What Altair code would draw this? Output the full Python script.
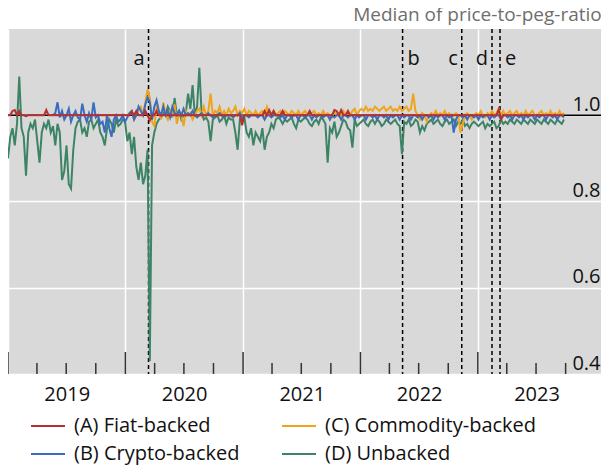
import altair as alt
import pandas as pd

# ---------------- data (weekly readings of the median price-to-peg ratio) ----------------
START = "2019-01-01"
N_WEEKS = 248
B_START = 20   # first week with a crypto-backed reading
C_START = 53   # first week with a commodity-backed reading

fiat = [
    1.0, 1.0, 1.01, 1.012, 1.0, 1.01, 1.0, 1.0, 0.998, 1.0,
    1.0, 1.0, 1.0, 1.0, 1.0, 1.0, 1.0, 1.012, 1.0, 1.0,
    1.0, 1.0, 1.0, 1.0, 1.0, 1.0, 1.0, 1.0, 1.0, 1.0,
    1.0, 1.0, 1.0, 1.0, 1.0, 1.0, 1.0, 1.0, 1.0, 1.0,
    1.0, 1.0, 1.0, 1.0, 1.0, 1.0, 1.0, 1.0, 1.0, 1.0,
    1.0, 1.0, 1.0, 1.0, 1.0, 1.008, 1.0, 1.01, 1.0, 1.0,
    1.0, 1.01, 1.0, 0.988, 1.0, 1.0, 1.01, 1.0, 1.0, 1.0,
    1.0, 1.0, 1.0, 1.0, 1.0, 1.0, 1.0, 1.0, 1.0, 1.0,
    1.0, 1.0, 1.0, 1.0, 1.0, 1.0, 1.0, 1.0, 1.0, 1.0,
    1.0, 1.0, 1.0, 1.0, 1.0, 1.0, 1.0, 1.0, 1.0, 1.0,
    1.0, 1.0, 1.0, 1.0, 0.977, 1.0, 1.0, 1.0, 1.0, 1.0,
    1.0, 1.0, 1.0, 1.0, 1.01, 1.0, 1.012, 1.0, 1.01, 1.0,
    1.0, 1.0, 1.01, 1.0, 1.0, 1.0, 1.0, 1.0, 1.0, 1.0,
    1.0, 1.0, 1.0, 1.0, 1.01, 1.0, 1.0, 1.0, 1.0, 1.0,
    1.0, 1.0, 1.0, 1.0, 1.0, 1.012, 1.01, 1.0, 1.012, 1.0,
    1.0, 1.01, 1.0, 1.0, 1.0, 1.0, 1.0, 1.0, 1.0, 1.0,
    1.0, 1.0, 1.0, 1.0, 1.0, 1.0, 1.0, 1.0, 1.0, 1.0,
    1.0, 1.0, 1.0, 1.0, 1.0, 1.0, 1.0, 1.0, 1.0, 1.0,
    1.0, 1.0, 1.0, 1.0, 1.0, 1.0, 1.0, 1.0, 1.0, 1.0,
    1.0, 1.0, 1.0, 1.0, 1.0, 1.0, 1.0, 1.0, 1.0, 1.0,
    1.0, 1.0, 1.0, 1.0, 1.0, 1.0, 1.0, 1.0, 1.0, 1.0,
    1.0, 1.0, 1.0, 1.0, 1.0, 1.0, 1.0, 1.0, 1.014, 0.99,
    1.0, 1.0, 1.0, 1.0, 1.0, 1.0, 1.0, 1.0, 1.0, 1.0,
    1.0, 1.0, 1.0, 1.0, 1.0, 1.0, 1.0, 1.0, 1.0, 1.0,
    1.0, 1.0, 1.0, 1.0, 1.0, 1.0, 1.0, 1.0,
]

crypto = [
    1.0, 1.005, 1.03, 0.995, 1.01, 0.99, 1.0, 1.015, 0.985, 1.0,
    1.01, 0.995, 0.99, 1.027, 1.0, 0.985, 1.005, 0.99, 1.03, 0.995,
    1.0, 0.98, 0.985, 0.96, 1.0, 0.97, 0.95, 0.99, 1.0, 0.985,
    0.99, 1.0, 0.985, 0.995, 1.005, 1.01, 0.99, 1.0, 1.02, 1.01,
    1.0, 1.025, 1.042, 1.03, 0.99, 1.02, 1.035, 1.01, 1.0, 1.02,
    1.0, 1.01, 0.995, 1.02, 1.005, 1.0, 1.01, 1.0, 1.015, 1.0,
    1.005, 1.0, 1.01, 1.0, 0.995, 1.0, 1.005, 1.0, 1.0, 1.005,
    1.0, 0.995, 1.0, 1.0, 1.005, 1.0, 0.995, 1.0, 1.0, 1.0,
    0.995, 1.0, 1.0, 1.005, 0.99, 1.0, 1.0, 0.995, 1.0, 1.0,
    1.0, 0.995, 1.0, 1.0, 0.99, 1.0, 1.0, 0.995, 1.0, 1.0,
    1.0, 0.995, 1.0, 0.99, 1.0, 1.0, 0.995, 1.0, 1.0, 0.99,
    1.0, 1.0, 0.995, 1.0, 1.0, 0.99, 1.0, 0.995, 1.0, 1.0,
    0.995, 1.0, 1.0, 0.99, 1.0, 0.995, 1.0, 1.0, 0.99, 1.0,
    1.0, 0.995, 1.0, 1.0, 0.99, 1.0, 0.995, 1.0, 1.0, 0.99,
    1.0, 1.0, 0.995, 1.0, 0.99, 1.0, 1.0, 0.995, 1.0, 0.99,
    1.0, 0.995, 1.0, 1.0, 0.99, 1.0, 0.995, 1.0, 1.0, 0.99,
    1.0, 1.0, 0.995, 1.0, 0.99, 1.0, 1.0, 0.995, 1.0, 0.99,
    1.0, 0.995, 1.0, 1.0, 0.99, 1.0, 0.995, 1.0, 0.96, 0.99,
    1.0, 1.0, 0.995, 1.0, 0.99, 1.0, 1.0, 0.995, 1.0, 0.99,
    1.0, 0.995, 1.0, 1.0, 0.99, 1.0, 0.995, 1.0, 1.0, 0.99,
    1.0, 1.0, 0.995, 1.0, 0.99, 1.0, 1.0, 0.995, 1.0, 0.99,
    1.0, 0.995, 1.0, 1.0, 0.99, 1.0, 0.995, 1.0, 1.0, 0.99,
    1.0, 1.0, 0.995, 1.0, 0.99, 1.0, 1.0, 0.995,
]

commodity = [
    1.0, 1.005, 1.01, 0.99, 1.0, 1.015, 1.02,
    1.0, 1.03, 1.06, 1.04, 0.985, 0.975, 1.02, 1.01, 0.99, 1.03,
    1.0, 0.99, 1.01, 1.0, 1.025, 0.98, 1.005, 1.0, 0.975, 1.01,
    1.0, 1.005, 0.99, 1.0, 1.01, 1.015, 1.0, 1.02, 1.0, 1.01,
    1.05, 1.0, 1.01, 1.005, 1.02, 1.0, 1.01, 1.0, 1.015, 1.005,
    1.01, 1.02, 1.0, 1.01, 1.005, 1.015, 1.0, 1.01, 1.005, 1.0,
    1.01, 1.0, 1.005, 1.01, 1.0, 1.02, 1.005, 1.0, 1.01, 1.0,
    1.005, 1.01, 1.0, 1.01, 1.005, 1.0, 1.01, 1.005, 1.0, 1.01,
    1.0, 1.005, 1.01, 1.0, 1.0, 1.005, 1.01, 1.0, 1.005, 1.0,
    1.01, 1.0, 1.005, 1.0, 0.995, 1.01, 1.0, 1.005, 1.0, 1.01,
    1.0, 1.005, 1.0, 1.01, 1.015, 1.0, 1.01, 1.015, 1.01, 1.02,
    1.01, 1.015, 1.01, 1.02, 1.015, 1.01, 1.015, 1.02, 1.01, 1.015,
    1.02, 1.01, 1.015, 1.01, 1.02, 1.01, 1.015, 1.02, 1.01, 1.015,
    1.05, 1.01, 1.0, 0.99, 1.005, 1.0, 0.985, 1.0, 1.005, 1.0,
    1.01, 1.0, 1.005, 1.0, 1.01, 1.0, 1.005, 0.995, 1.0, 1.005,
    1.0, 0.96, 0.98, 1.0, 1.005, 1.0, 0.99, 1.0, 1.005, 1.0,
    1.01, 1.0, 0.995, 1.005, 1.0, 1.01, 1.0, 1.005, 1.015, 1.0,
    1.01, 1.0, 1.005, 1.01, 1.0, 1.005, 1.01, 1.0, 1.005, 1.0,
    1.01, 1.0, 1.005, 1.01, 1.0, 1.0, 1.005, 1.01, 1.0, 1.005,
    1.0, 1.01, 1.0, 1.005, 1.0, 1.01, 1.0, 1.005,
]

unbacked = [
    0.90, 0.95, 0.97, 0.93, 0.98, 1.09, 0.97, 0.95, 0.86, 0.96,
    0.98, 0.97, 0.99, 0.94, 0.89, 0.96, 0.98, 0.97, 0.99, 0.96,
    0.975, 0.93, 0.98, 0.96, 0.85, 0.87, 0.93, 0.84, 0.83, 0.92,
    0.97, 0.985, 0.99, 0.96, 0.97, 0.95, 0.985, 0.99, 0.97, 0.98,
    0.99, 0.96, 0.95, 0.93, 0.97, 0.99, 0.98, 0.96, 0.99, 0.975,
    0.98, 0.99, 0.985, 0.94, 0.96, 0.91, 0.95, 0.88, 0.85, 0.89,
    0.84, 0.86, 0.92, 0.43, 0.93, 0.96, 0.98, 0.99, 0.995, 1.005,
    1.0, 1.02, 1.01, 0.995, 1.04, 1.0, 1.01, 0.99, 1.0, 1.005,
    1.05, 1.015, 1.07, 1.0, 1.02, 1.11, 1.005, 0.99, 0.995, 0.985,
    0.94, 0.99, 0.995, 1.0, 0.985, 0.99, 1.0, 0.98, 0.995, 0.99,
    0.99, 0.96, 0.92, 0.99, 1.0, 0.995, 0.96, 0.95, 0.97, 0.93,
    0.96, 0.95, 0.94, 0.97, 0.92, 0.95, 0.96, 0.98, 0.97, 0.99,
    0.995, 0.99, 0.98, 0.99, 0.985, 0.99, 0.995, 0.98, 0.97, 0.99,
    0.985, 0.99, 0.995, 0.99, 0.98, 0.975, 0.985, 0.99, 0.98, 0.995,
    0.99, 0.98, 0.89, 0.97, 0.96, 0.985, 0.95, 0.96, 0.975, 0.99,
    0.985, 0.97, 0.965, 0.925, 0.99, 0.975, 0.98, 0.985, 0.99, 0.98,
    0.975, 0.985, 0.99, 0.98, 0.99, 0.985, 0.975, 0.98, 0.99, 0.985,
    0.98, 0.985, 0.99, 0.98, 0.975, 0.91, 0.985, 0.98, 0.99, 0.975,
    0.98, 0.99, 0.985, 0.96, 0.975, 0.965, 0.98, 0.985, 0.99, 0.98,
    0.985, 0.99, 0.98, 0.975, 0.985, 0.99, 0.98, 0.985, 0.99, 0.975,
    0.985, 0.98, 0.99, 0.975, 0.98, 0.97, 0.98, 0.985, 0.98, 0.975,
    0.98, 0.985, 0.97, 0.98, 0.975, 0.98, 0.985, 0.97, 0.975, 0.99,
    0.98, 0.985, 0.98, 0.99, 0.985, 0.98, 0.99, 0.985, 0.98, 0.99,
    0.985, 0.98, 0.99, 0.985, 0.98, 0.99, 0.985, 0.98, 0.99, 0.985,
    0.98, 0.99, 0.985, 0.98, 0.99, 0.985, 0.98, 0.99,
]

series_names = ["(A) Fiat-backed", "(B) Crypto-backed", "(C) Commodity-backed", "(D) Unbacked"]
series_colors = ["#b4312f", "#3a6dc0", "#f0a41c", "#3d8466"]

event_labels = ["a", "b", "c", "d", "e"]
event_dates = ["2020-03-13", "2022-05-12", "2022-11-12", "2023-02-14", "2023-03-11"]
event_sides = ["left", "right", "left", "left", "right"]

year_ticks = ["2019-01-01", "2020-01-01", "2021-01-01", "2022-01-01", "2023-01-01"]
quarter_ticks = [
    "2019-04-01", "2019-07-01", "2019-10-01",
    "2020-04-01", "2020-07-01", "2020-10-01",
    "2021-04-01", "2021-07-01", "2021-10-01",
    "2022-04-01", "2022-07-01", "2022-10-01",
    "2023-04-01", "2023-07-01", "2023-10-01",
]
y_ticks = [0.4, 0.6, 0.8, 1.0]
peg = [1.0]

# ---------------- build tables ----------------
dates = pd.date_range(START, periods=N_WEEKS, freq="7D").strftime("%Y-%m-%d")
frames = [
    pd.DataFrame({"date": dates, "value": fiat, "series": series_names[0]}),
    pd.DataFrame({"date": dates[B_START:B_START + len(crypto)], "value": crypto, "series": series_names[1]}),
    pd.DataFrame({"date": dates[C_START:C_START + len(commodity)], "value": commodity, "series": series_names[2]}),
    pd.DataFrame({"date": dates, "value": unbacked, "series": series_names[3]}),
]
df = pd.concat(frames, ignore_index=True)
ev = pd.DataFrame({"date": event_dates, "label": event_labels, "side": event_sides})
major = pd.DataFrame({"date": year_ticks})
minor = pd.DataFrame({"date": quarter_ticks})
pegdf = pd.DataFrame({"v": peg})

W, H = 593, 345
FONT = "Open Sans"

xscale = alt.Scale(
    type="utc",
    domain=[alt.DateTime(year=2019, month=1, date=1, utc=True),
            alt.DateTime(year=2024, month=1, date=19, utc=True)],
)
yscale = alt.Scale(domain=[0.4, 1.2], nice=False, zero=False)

xaxis = alt.Axis(
    values=[alt.DateTime(year=int(d[:4]), month=1, date=1, utc=True) for d in year_ticks],
    format="%Y", title=None, ticks=False, tickSize=0, domain=False,
    grid=True, gridColor="white", gridWidth=1.5,
    labelOffset=58.7, labelPadding=10, labelFlush=False, labelOverlap=False,
    labelFontSize=20, labelFont=FONT, labelColor="#111",
)
yaxis = alt.Axis(
    values=y_ticks, orient="right", format=".1f", title=None,
    ticks=False, tickSize=0, domain=False,
    grid=True, gridColor="white", gridWidth=1.5,
    labelAlign="right", labelPadding=-1, labelBaseline="alphabetic", labelOffset=-5,
    labelFontSize=20, labelFont=FONT, labelColor="#111", labelFlush=False,
)

# legend entries fill column by column: A, B in the first column, C, D in the second
color_scale = alt.Scale(domain=series_names, range=series_colors)
legend = alt.Legend(
    orient="none", legendX=22, legendY=379, columns=2, columnPadding=38, rowPadding=-8,
    symbolType="stroke", symbolSize=1156, symbolStrokeWidth=2,
    labelFontSize=20, labelFont=FONT, labelColor="#111", labelOffset=8, labelLimit=400,
    title=None,
)

base_x = alt.X("date:T", scale=xscale, axis=xaxis)

peg_rule = alt.Chart(pegdf).mark_rule(color="black", strokeWidth=1.5).encode(
    y=alt.Y("v:Q", scale=yscale, axis=yaxis)
)
major_ticks = alt.Chart(major).mark_rule(color="#333", strokeWidth=1.5).encode(
    x=alt.X("date:T", scale=xscale), y=alt.value(H - 22), y2=alt.value(H)
)
minor_ticks = alt.Chart(minor).mark_rule(color="#333", strokeWidth=1.5).encode(
    x=alt.X("date:T", scale=xscale), y=alt.value(H - 11), y2=alt.value(H)
)
event_lines = alt.Chart(ev).mark_rule(color="black", strokeWidth=1.5, strokeDash=[4, 3]).encode(
    x=alt.X("date:T", scale=xscale)
)

line_layers = []
for k, name in enumerate([series_names[3], series_names[2], series_names[1], series_names[0]]):
    line_layers.append(
        alt.Chart(df).transform_filter(alt.datum.series == name)
        .mark_line(strokeWidth=2)
        .encode(
            x=base_x,
            y=alt.Y("value:Q", scale=yscale, axis=yaxis),
            color=alt.Color("series:N", scale=color_scale, legend=legend if k == 0 else None),
        )
    )

labels_left = alt.Chart(ev).transform_filter(alt.datum.side == "left").mark_text(
    align="right", dx=-4, fontSize=20, font=FONT, color="#111", baseline="alphabetic"
).encode(x=alt.X("date:T", scale=xscale), y=alt.value(36), text="label:N")
labels_right = alt.Chart(ev).transform_filter(alt.datum.side == "right").mark_text(
    align="left", dx=5, fontSize=20, font=FONT, color="#111", baseline="alphabetic"
).encode(x=alt.X("date:T", scale=xscale), y=alt.value(36), text="label:N")

chart = alt.layer(
    peg_rule, major_ticks, minor_ticks, event_lines, *line_layers, labels_left, labels_right
).resolve_scale(color="independent").properties(
    width=W, height=H,
    title=alt.Title("Median of price-to-peg-ratio", anchor="end", fontSize=19, font=FONT,
                    fontWeight="normal", color="#6e6e6e", offset=3),
    padding={"left": 0, "top": 21, "right": 0, "bottom": 91},
    autosize=alt.AutoSizeParams(type="none"),
).configure_view(fill="#d9d9d9", stroke=None)

chart.save("out.html", embed_options={"renderer": "svg", "actions": False})
